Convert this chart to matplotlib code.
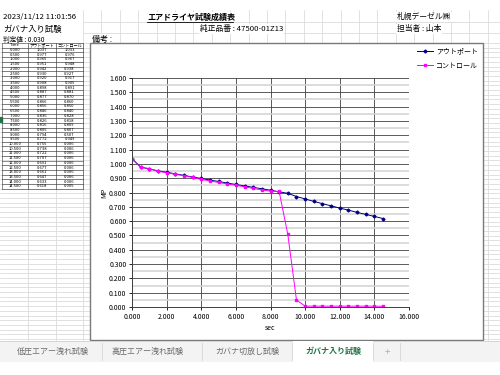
import matplotlib
matplotlib.use('Agg')
import matplotlib.pyplot as plt
import numpy as np
from matplotlib.patches import Rectangle

plt.rcParams['font.family'] = ['Noto Sans CJK JP', 'DejaVu Sans']

times = [0.0, 0.5, 1.0, 1.5, 2.0, 2.5, 3.0, 3.5, 4.0, 4.5,
         5.0, 5.5, 6.0, 6.5, 7.0, 7.5, 8.0, 8.5, 9.0, 9.5,
         10.0, 10.5, 11.0, 11.5, 12.0, 12.5, 13.0, 13.5, 14.0, 14.5]
outport = [1.037, 0.977, 0.965, 0.951, 0.942, 0.930, 0.920, 0.908, 0.898, 0.887,
           0.877, 0.866, 0.856, 0.846, 0.836, 0.826, 0.816, 0.805, 0.794, 0.772,
           0.755, 0.738, 0.722, 0.707, 0.691, 0.677, 0.661, 0.647, 0.633, 0.618]
control = [1.033, 0.976, 0.967, 0.948, 0.938, 0.927, 0.917, 0.905, 0.891, 0.881,
           0.870, 0.860, 0.850, 0.840, 0.828, 0.818, 0.809, 0.807, 0.507, 0.049,
           0.006, 0.006, 0.006, 0.006, 0.006, 0.006, 0.006, 0.006, 0.006, 0.005]
series_names = ['アウトポート', 'コントロール']
table_header = ['Time', 'アウトポート', 'コントロール']
sheet_tabs = ['低圧エアー洩れ試験', '高圧エアー洩れ試験', 'ガバナ切放し試験', 'ガバナ入り試験']
active_tab = 3

fig = plt.figure(figsize=(5, 3.75), dpi=100)

# background = the spreadsheet, in pixel coords
bg = fig.add_axes([0, 0, 1, 1])
bg.set_xlim(0, 500)
bg.set_ylim(375, 0)
bg.axis('off')

grid_c = '#dcdcdc'
row_h = 4.7
for y in [22, 33]:
    bg.plot([83, 500], [y, y], color=grid_c, lw=0.6)
y = 43
while y < 341:
    bg.plot([0, 500], [y, y], color=grid_c, lw=0.6)
    y += row_h
for x in [28, 56]:
    bg.plot([x, x], [43, 341], color=grid_c, lw=0.6)
x = 83
while x < 500:
    bg.plot([x, x], [10, 341], color=grid_c, lw=0.6)
    x += 18.4

# header texts (cells overflow, so hide the gridlines under them)
hdr_box = dict(facecolor='white', edgecolor='none', pad=0.6)
bg.text(3, 17, '2023/11/12 11:01:56', fontsize=5.6, va='center', bbox=hdr_box)
bg.text(3, 29, 'ガバナ入り試験', fontsize=6, va='center', bbox=hdr_box)
bg.text(3, 40, '判定値 : 0.030', fontsize=4.8, va='center', bbox=hdr_box)
bg.text(147, 17, 'エアドライヤ試験成績表', fontsize=5.8, va='center', fontweight='bold', bbox=hdr_box)
bg.plot([147, 233], [21.5, 21.5], color='black', lw=0.6)
bg.text(200, 29, '純正品番 : 47500-01Z13', fontsize=5.6, va='center', bbox=hdr_box)
bg.text(397, 17, '札幌デーゼル㈱', fontsize=5.6, va='center', bbox=hdr_box)
bg.text(397, 29, '担当者 : 山本', fontsize=5.6, va='center', bbox=hdr_box)
bg.text(92, 39.5, '備考 :', fontsize=5.8, va='center', bbox=hdr_box)

# left data table
col_x = [2, 28, 56, 83]
top = 43
n_rows = len(times) + 1
bottom = top + n_rows * row_h
for i in range(n_rows + 1):
    bg.plot([col_x[0], col_x[-1]], [top + i * row_h] * 2, color='#333333', lw=0.4, zorder=3)
for cx in col_x:
    bg.plot([cx, cx], [top, bottom], color='#333333', lw=0.4, zorder=3)
centers = [(col_x[j] + col_x[j + 1]) / 2 for j in range(3)]
for j, h in enumerate(table_header):
    bg.text(centers[j], top + row_h / 2, h, fontsize=3, ha='center', va='center', zorder=4)
for i in range(len(times)):
    yy = top + (i + 1.5) * row_h
    vals = ['%.3f' % times[i], '%.3f' % outport[i], '%.3f' % control[i]]
    for j, v in enumerate(vals):
        bg.text(centers[j], yy, v, fontsize=3, ha='center', va='center', zorder=4)
bg.add_patch(Rectangle((0, 117), 1.8, 5, color='#217346', zorder=4))

# chart object frame
bg.add_patch(Rectangle((90, 43), 393, 297, facecolor='white', edgecolor='#7a7a7a', lw=1, zorder=5))
bg.text(104, 193, 'MP', fontsize=5, rotation=90, ha='center', va='center', zorder=6)
bg.text(270, 328, 'sec', fontsize=5, ha='center', va='center', zorder=6)

# sheet tabs
bg.add_patch(Rectangle((0, 341), 500, 21, facecolor='#f3f3f3', edgecolor='none', zorder=6))
bg.plot([0, 500], [341, 341], color='#d0d0d0', lw=0.6, zorder=7)
bg.add_patch(Rectangle((293, 341), 80, 21, facecolor='white', edgecolor='none', zorder=7))
for sx in [102, 202, 292, 373, 400]:
    bg.plot([sx, sx], [343, 360], color='#d6d6d6', lw=0.6, zorder=8)
tab_cx = [53, 147, 247, 333]
for k, name in enumerate(sheet_tabs):
    if k == active_tab:
        bg.text(tab_cx[k], 351.5, name, fontsize=5.8, ha='center', va='center',
                color='#217346', fontweight='bold', zorder=8)
    else:
        bg.text(tab_cx[k], 351.5, name, fontsize=5.8, ha='center', va='center',
                color='#6b6b6b', zorder=8)
bg.text(387, 351.5, '+', fontsize=7, ha='center', va='center', color='#b0b0b0', zorder=8)

# the chart itself
ax = fig.add_axes([132 / 500, 68 / 375, 277 / 500, 229 / 375])
ax.set_facecolor('none')
ax.plot(times, outport, color='#000080', marker='D', ms=1.5, lw=0.7, label=series_names[0])
ax.plot(times, control, color='#ff00ff', marker='s', ms=1.9, lw=0.7, label=series_names[1])
ax.set_xlim(0, 16)
ax.set_ylim(0, 1.6)
ax.set_xticks(np.arange(0, 16.1, 2))
ax.set_yticks(np.arange(0, 1.61, 0.1))
ax.set_yticks(np.arange(0.05, 1.6, 0.1), minor=True)
ax.xaxis.set_major_formatter(matplotlib.ticker.FormatStrFormatter('%.3f'))
ax.yaxis.set_major_formatter(matplotlib.ticker.FormatStrFormatter('%.3f'))
ax.grid(which='minor', axis='y', color='#d2d2d2', lw=1.1)
ax.grid(which='major', color='#404040', lw=0.6)
ax.set_axisbelow(True)
ax.tick_params(which='major', length=2, width=0.6, labelsize=5, pad=2)
ax.tick_params(which='minor', length=0)
for s in ['top', 'right']:
    ax.spines[s].set_visible(False)
for s in ['left', 'bottom']:
    ax.spines[s].set_color('#404040')
    ax.spines[s].set_linewidth(0.7)

fig.legend(loc='upper left', bbox_to_anchor=(414 / 500, 1 - 44 / 375), frameon=False,
           fontsize=5, handlelength=2.2, labelspacing=0.9, handletextpad=0.5, borderpad=0)

fig.savefig('out.png', dpi=100)
